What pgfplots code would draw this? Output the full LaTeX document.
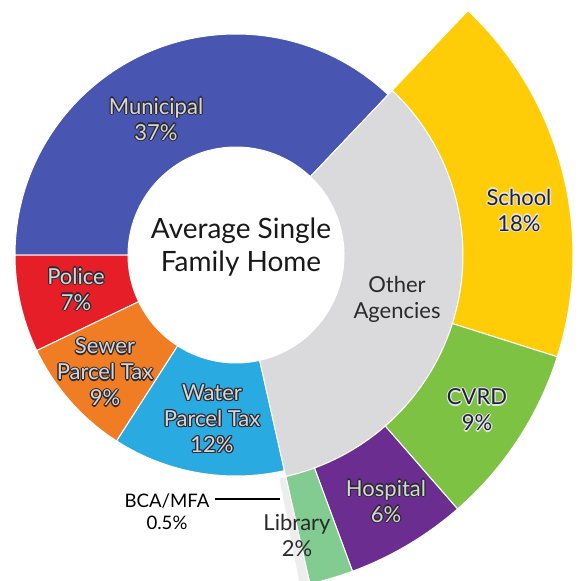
\documentclass[border=0pt]{standalone}
\usepackage{pgfplots}
\pgfplotsset{compat=1.18}
\usepackage{pgfplotstable}
\usepackage{fontspec}
\setmainfont{Lato}

\definecolor{cMun}{HTML}{4856B2}
\definecolor{cPol}{HTML}{E61E28}
\definecolor{cSew}{HTML}{F07D23}
\definecolor{cWat}{HTML}{29AAE1}
\definecolor{cOth}{HTML}{DADADC}
\definecolor{cSch}{HTML}{FFCC08}
\definecolor{cCvr}{HTML}{7DC243}
\definecolor{cHos}{HTML}{6C2D91}
\definecolor{cLib}{HTML}{82CC92}
\definecolor{cBca}{HTML}{EDEDED}
\definecolor{halo}{HTML}{2A2A30}
\definecolor{lightfill}{HTML}{D6D6DA}
\definecolor{darktext}{HTML}{2A2A2A}
\definecolor{navytext}{HTML}{20223A}

% inner ring: counter-clockwise from 46.5 degrees
\pgfplotstableread{
name      value rout col
Municipal 37.1  221  cMun
Police    7.1   221  cPol
Sewer     8.8   221  cSew
Water     12.6  221  cWat
Other     34.4  227  cOth
}\innertab
% outer ring: clockwise from 46.5 degrees
\pgfplotstableread{
name     value col
School   17.8  cSch
CVRD     8.7   cCvr
Hospital 5.8   cHos
Library  2.1   cLib
BCAMFA   0.5   cBca
}\outertab

\pgfplotstablegetrowsof{\innertab}
\pgfmathtruncatemacro\ninner{\pgfplotsretval-1}
\pgfplotstablegetrowsof{\outertab}
\pgfmathtruncatemacro\nouter{\pgfplotsretval-1}

% outlined text
\newcommand\olx[4]{\rlap{\kern#1\raisebox{#2}{\textcolor{#3}{#4}}}}
\newcommand\outl[3]{\leavevmode
  \olx{.6pt}{0pt}{#1}{#3}\olx{-.6pt}{0pt}{#1}{#3}%
  \olx{0pt}{.6pt}{#1}{#3}\olx{0pt}{-.6pt}{#1}{#3}%
  \olx{.42pt}{.42pt}{#1}{#3}\olx{-.42pt}{.42pt}{#1}{#3}%
  \olx{.42pt}{-.42pt}{#1}{#3}\olx{-.42pt}{-.42pt}{#1}{#3}%
  \textcolor{#2}{#3}}
\newcommand\lt[1]{\outl{halo}{lightfill}{#1}}
\newcommand\dk[1]{\outl{white!80!gray}{navytext}{#1}}

\begin{document}
\begin{tikzpicture}
\begin{axis}[hide axis, scale only axis, x=0.5pt, y=0.5pt,
  xmin=-236, xmax=346, ymin=-325, ymax=255, clip=true]
\path (rel axis cs:0,0) rectangle (rel axis cs:1,1);
% inner ring
\xdef\sAcc{46.5}
\foreach \i in {0,...,\ninner}{%
  \pgfplotstablegetelem{\i}{value}\of{\innertab}\let\sVal\pgfplotsretval
  \pgfplotstablegetelem{\i}{col}\of{\innertab}\let\sCol\pgfplotsretval
  \pgfplotstablegetelem{\i}{rout}\of{\innertab}\let\sRo\pgfplotsretval
  \pgfmathsetmacro\sA{\sAcc}%
  \pgfmathsetmacro\sB{\sAcc+3.6*\sVal}%
  \xdef\sAcc{\sB}%
  \edef\sTmp{\noexpand\fill[fill=\sCol, draw=white, line width=0.5pt]
    (axis cs:{108*cos(\sA)},{108*sin(\sA)}) arc[start angle=\sA, end angle=\sB, radius=54pt]
    -- (axis cs:{\sRo*cos(\sB)},{\sRo*sin(\sB)}) arc[start angle=\sB, end angle=\sA, radius=\sRo*0.5pt] -- cycle;}%
  \sTmp
}
% outer ring
\xdef\sAcc{46.5}
\foreach \i in {0,...,\nouter}{%
  \pgfplotstablegetelem{\i}{value}\of{\outertab}\let\sVal\pgfplotsretval
  \pgfplotstablegetelem{\i}{col}\of{\outertab}\let\sCol\pgfplotsretval
  \pgfmathsetmacro\sA{\sAcc}%
  \pgfmathsetmacro\sB{\sAcc-3.6*\sVal}%
  \xdef\sAcc{\sB}%
  \edef\sTmp{\noexpand\fill[fill=\sCol, draw=white, line width=0.5pt]
    (axis cs:{227*cos(\sA)},{227*sin(\sA)}) arc[start angle=\sA, end angle=\sB, radius=113.5pt]
    -- (axis cs:{337*cos(\sB)},{337*sin(\sB)}) arc[start angle=\sB, end angle=\sA, radius=168.5pt] -- cycle;}%
  \sTmp
}
% labels
\tikzset{lab/.style={align=center, inner sep=0pt, font=\fontsize{11}{13}\selectfont}}
\node[lab] at (axis cs:-80,136) {\lt{Municipal}\\\lt{37\%}};
\node[lab] at (axis cs:-160,-34) {\lt{Police}\\\lt{7\%}};
\node[lab] at (axis cs:-131,-117) {\lt{Sewer}\\\lt{Parcel Tax}\\\lt{9\%}};
\node[lab] at (axis cs:-24,-164) {\lt{Water}\\\lt{Parcel Tax}\\\lt{12\%}};
\node[lab, text=darktext] at (axis cs:161,-44) {Other\\Agencies};
\node[lab] at (axis cs:283,45) {\dk{School}\\\dk{18\%}};
\node[lab] at (axis cs:241,-155) {\dk{CVRD}\\\dk{9\%}};
\node[lab] at (axis cs:150,-246) {\lt{Hospital}\\\lt{6\%}};
\node[lab, text=darktext] at (axis cs:61,-280) {Library\\2\%};
\node[align=center, inner sep=0pt, font=\fontsize{14}{16.5}\selectfont, text=black!90] at (axis cs:5,8) {Average Single\\Family Home};
\node[align=center, inner sep=0pt, font=\fontsize{9.3}{11}\selectfont, text=black] at (axis cs:-69,-257) {BCA/MFA\\0.5\%};
\draw[line width=0.75pt, black] (axis cs:-21,-244) -- (axis cs:44,-244);
\end{axis}
\end{tikzpicture}
\end{document}
